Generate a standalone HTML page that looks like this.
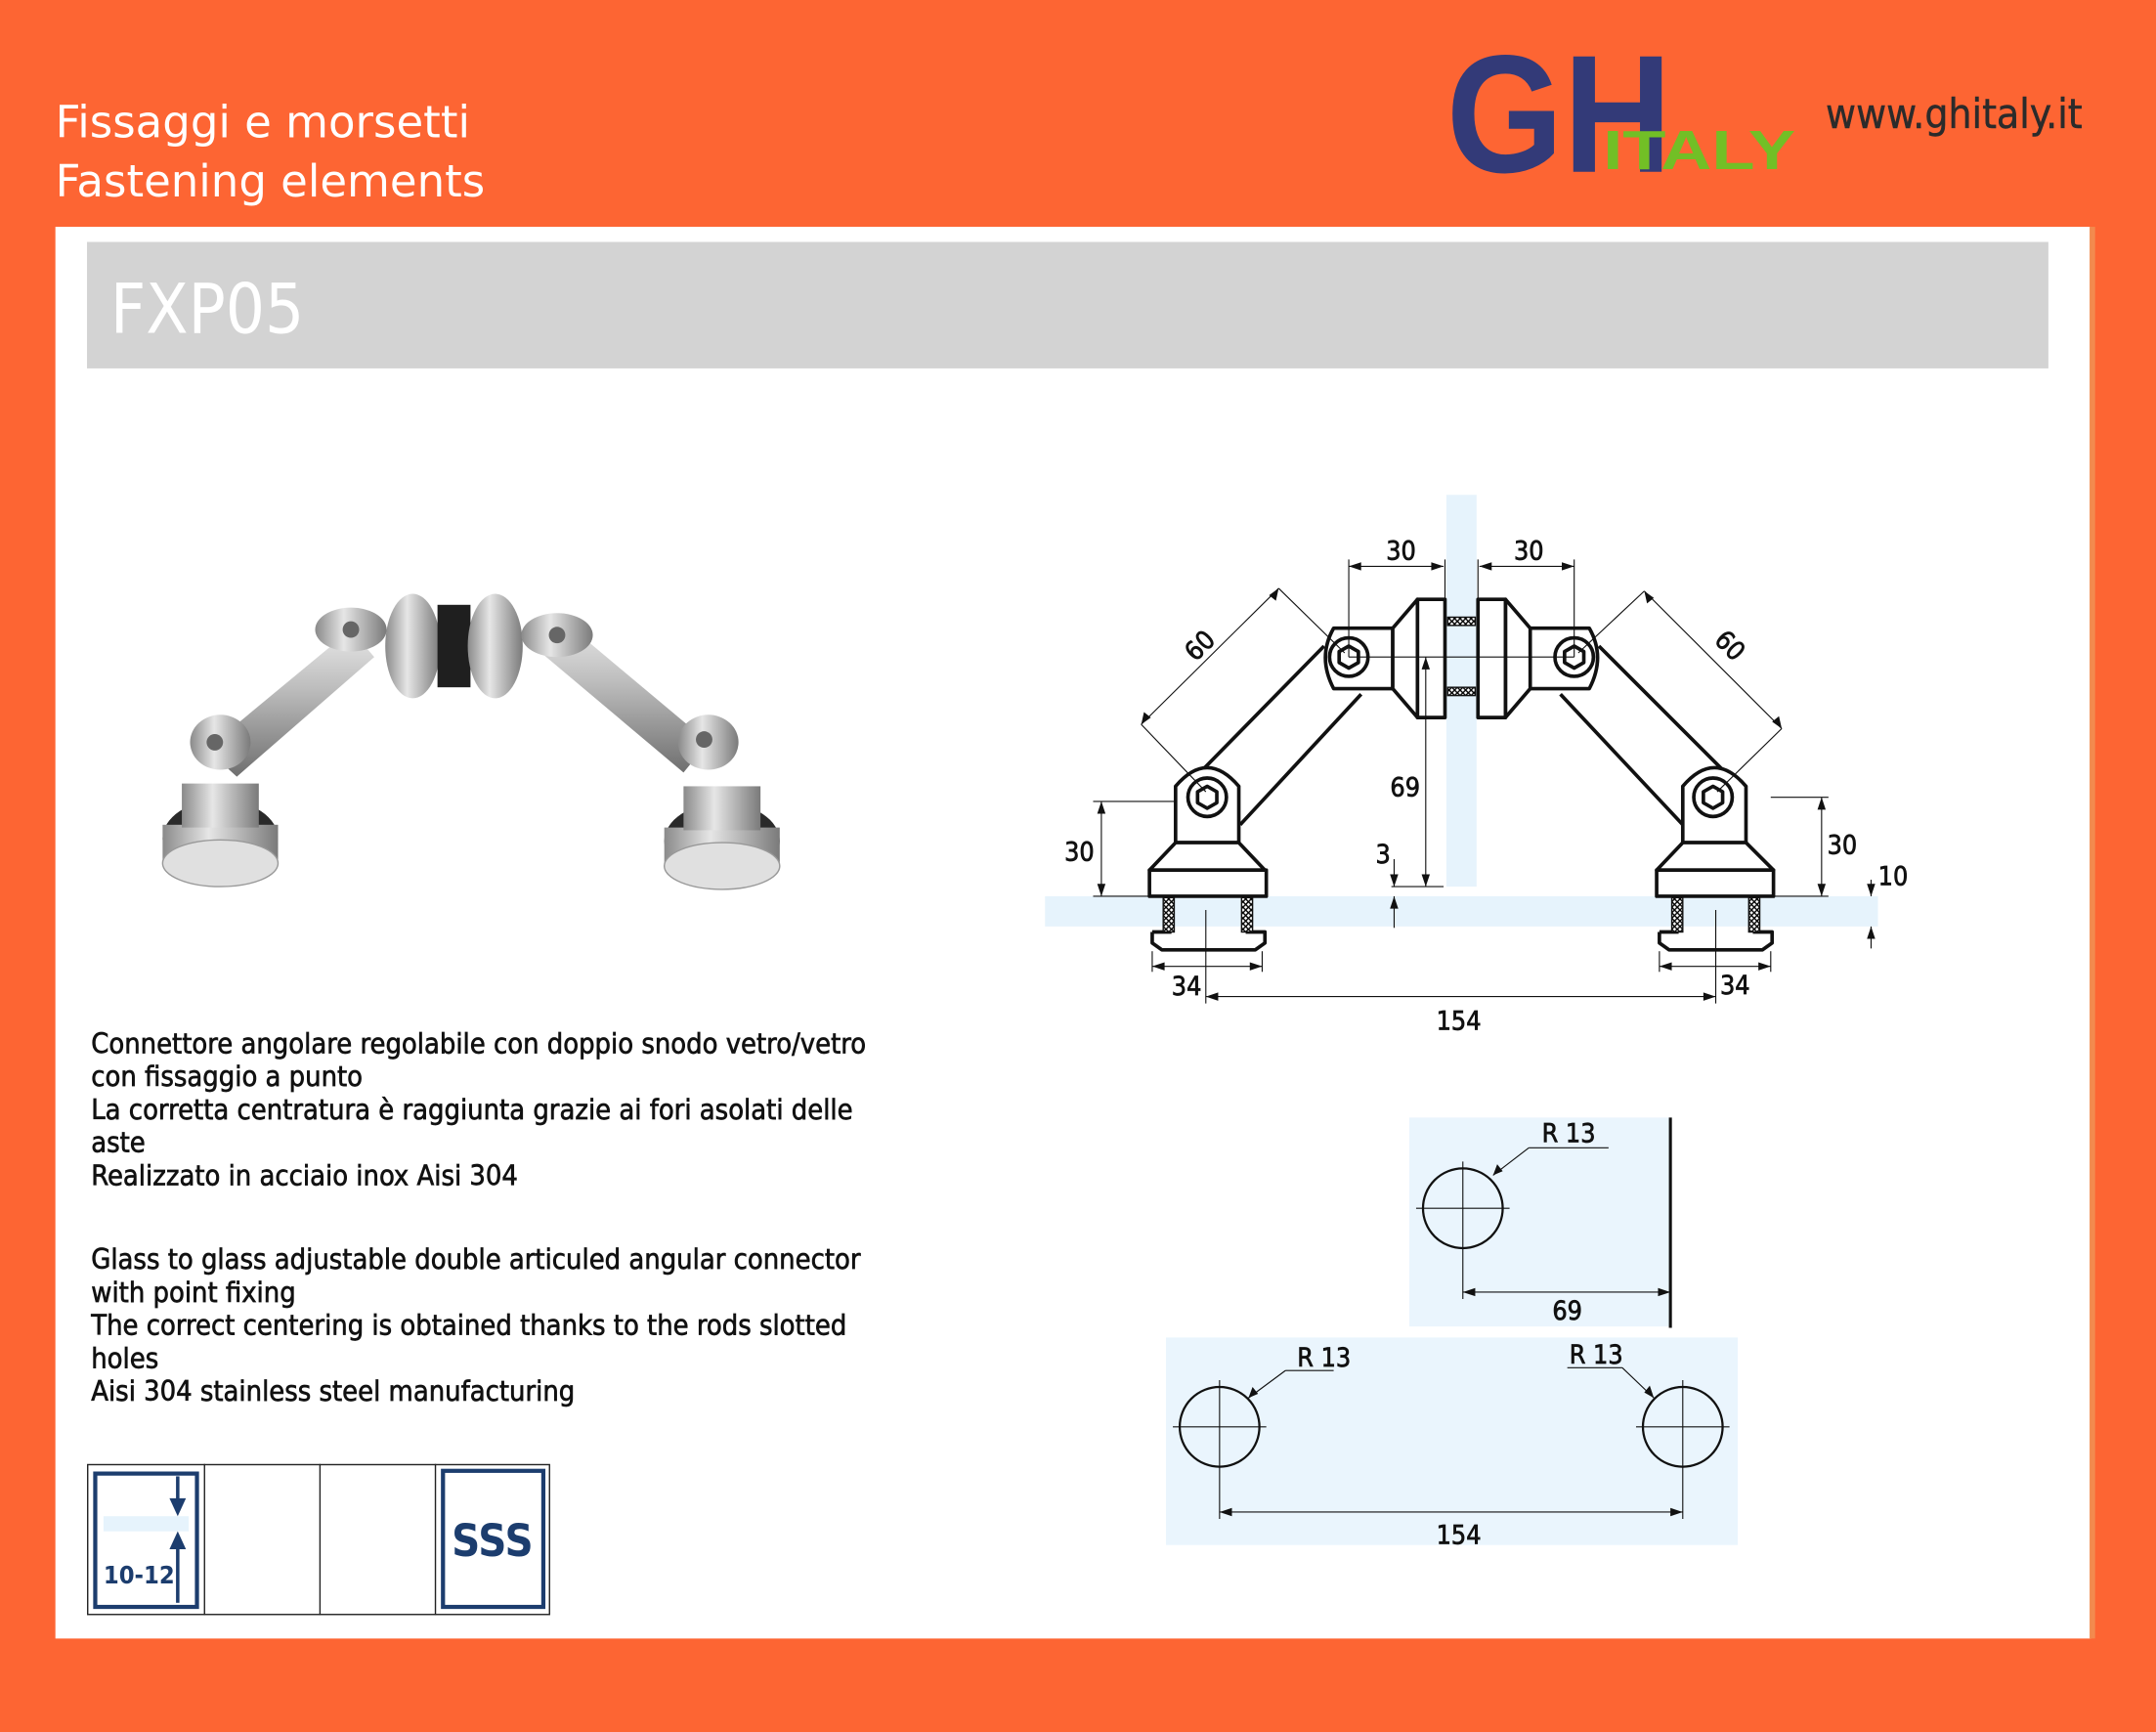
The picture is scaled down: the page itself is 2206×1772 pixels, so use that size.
<!DOCTYPE html>
<html><head><meta charset="utf-8"><style>
html,body{margin:0;padding:0;background:#fd6533;}
svg{display:block}
.t{font-family:"DejaVu Sans Condensed","DejaVu Sans",sans-serif;}
</style></head><body>
<svg width="2206" height="1772" viewBox="0 0 1568 1260" xmlns="http://www.w3.org/2000/svg">
<defs>
<linearGradient id="rod" x1="0" y1="0" x2="0" y2="1"><stop offset="0" stop-color="#e8e8e8"/><stop offset="0.4" stop-color="#bdbdbd"/><stop offset="1" stop-color="#6f6f6f"/></linearGradient>
<linearGradient id="cyl" x1="0" y1="0" x2="1" y2="0"><stop offset="0" stop-color="#8a8a8a"/><stop offset="0.4" stop-color="#e6e6e6"/><stop offset="1" stop-color="#7a7a7a"/></linearGradient>
<pattern id="hatch" width="4" height="4" patternUnits="userSpaceOnUse"><rect width="4" height="4" fill="#fff"/><path d="M0 0L4 4M4 0L0 4" stroke="#000" stroke-width="1"/></pattern>
</defs>
<rect width="1568" height="1260" fill="#fd6533"/>
<rect x="40" y="165" width="1481" height="1027" fill="#fff"/>
<rect x="1520" y="165" width="4" height="1027" fill="#f28a4e"/>
<rect x="63" y="176" width="1427" height="92" fill="#d3d3d3"/>
<text x="80" y="242" class="t" font-size="50" fill="#fff">FXP05</text>
<text x="40" y="100" font-size="32" fill="#fff" style="font-family:'DejaVu Sans',sans-serif">Fissaggi e morsetti</text>
<text x="40" y="143" font-size="32" fill="#fff" style="font-family:'DejaVu Sans',sans-serif">Fastening elements</text>
<!-- logo -->
<text x="1052" y="125" font-family="Liberation Sans,sans-serif" font-weight="bold" font-size="122" fill="#333a78" textLength="164" lengthAdjust="spacingAndGlyphs">GH</text>
<text x="1166" y="123" font-family="Liberation Sans,sans-serif" font-weight="bold" font-size="40" fill="#72bf26" textLength="140" lengthAdjust="spacingAndGlyphs">ITALY</text>
<text x="1328" y="93" class="t" font-size="30" fill="#2b2b2b" stroke="#2b2b2b" stroke-width="0.3">www.ghitaly.it</text>

<!-- photo -->
<g>
<path d="M150 545 L255 458 L272 478 L172 565Z" fill="url(#rod)"/>
<path d="M390 472 L410 452 L515 540 L497 562Z" fill="url(#rod)"/>
<ellipse cx="160" cy="610" rx="42" ry="28" fill="#2a2a2a"/>
<rect x="118" y="600" width="84" height="28" fill="url(#cyl)"/>
<ellipse cx="160" cy="628" rx="42" ry="17" fill="#e0e0e0" stroke="#999"/>
<rect x="132" y="570" width="56" height="32" fill="url(#cyl)"/>
<ellipse cx="160" cy="540" rx="22" ry="20" fill="url(#cyl)"/>
<ellipse cx="525" cy="612" rx="42" ry="28" fill="#2a2a2a"/>
<rect x="483" y="602" width="84" height="28" fill="url(#cyl)"/>
<ellipse cx="525" cy="630" rx="42" ry="17" fill="#e0e0e0" stroke="#999"/>
<rect x="497" y="572" width="56" height="32" fill="url(#cyl)"/>
<ellipse cx="515" cy="540" rx="22" ry="20" fill="url(#cyl)"/>
<ellipse cx="300" cy="470" rx="20" ry="38" fill="url(#cyl)"/>
<rect x="318" y="440" width="24" height="60" fill="#1f1f1f"/>
<ellipse cx="360" cy="470" rx="20" ry="38" fill="url(#cyl)"/>
<ellipse cx="255" cy="458" rx="26" ry="16" fill="url(#cyl)"/>
<ellipse cx="405" cy="462" rx="26" ry="16" fill="url(#cyl)"/>
<circle cx="255" cy="458" r="6" fill="#666"/><circle cx="405" cy="462" r="6" fill="#666"/>
<circle cx="156" cy="540" r="6" fill="#666"/><circle cx="512" cy="538" r="6" fill="#666"/>
</g>

<!-- description -->
<g class="t" font-size="20.5" fill="#111" stroke="#111" stroke-width="0.45">
<text x="66" y="766">Connettore angolare regolabile con doppio snodo vetro/vetro</text>
<text x="66" y="790">con fissaggio a punto</text>
<text x="66" y="814">La corretta centratura è raggiunta grazie ai fori asolati delle</text>
<text x="66" y="838">aste</text>
<text x="66" y="862">Realizzato in acciaio inox Aisi 304</text>
<text x="66" y="923">Glass to glass adjustable double articuled angular connector</text>
<text x="66" y="947">with point fixing</text>
<text x="66" y="971">The correct centering is obtained thanks to the rods slotted</text>
<text x="66" y="995">holes</text>
<text x="66" y="1019">Aisi 304 stainless steel manufacturing</text>
</g>

<!-- icons -->
<g stroke="#222" stroke-width="1" fill="none">
<rect x="63.5" y="1065.5" width="336" height="109"/>
<line x1="148.5" y1="1065" x2="148.5" y2="1175"/>
<line x1="232.5" y1="1065" x2="232.5" y2="1175"/>
<line x1="316.5" y1="1065" x2="316.5" y2="1175"/>
</g>
<rect x="69" y="1072" width="74" height="97" fill="none" stroke="#1c3d6e" stroke-width="3"/>
<rect x="75" y="1103" width="62" height="11" fill="#e6f3fc"/>
<g stroke="#1c3d6e" stroke-width="2.5" fill="#1c3d6e">
<line x1="129" y1="1074" x2="129" y2="1095"/><path d="M123 1090 L135 1090 L129 1103Z" stroke="none"/>
<line x1="129" y1="1124" x2="129" y2="1166"/><path d="M123 1127 L135 1127 L129 1114Z" stroke="none"/>
</g>
<text x="75" y="1152" class="t" font-weight="bold" font-size="18" fill="#1c3d6e">10-12</text>
<rect x="322" y="1070" width="73" height="99" fill="none" stroke="#1c3d6e" stroke-width="3"/>
<text x="358" y="1132" text-anchor="middle" class="t" font-weight="bold" font-size="32" fill="#1c3d6e">SSS</text>

<!-- technical drawing -->
<rect x="1052" y="360" width="22" height="285" fill="#e6f3fc"/>
<rect x="760" y="652" width="606" height="22" fill="#e6f3fc"/>
<g stroke="#111" stroke-width="2.6" fill="none" stroke-linejoin="round">
<line x1="963" y1="470" x2="860" y2="575"/><line x1="990" y1="505" x2="902" y2="600"/>
<line x1="1163" y1="470" x2="1268" y2="575"/><line x1="1135" y1="505" x2="1224" y2="600"/>
<path d="M1013 457 L970 457 Q958 478 970 501 L1013 501Z" fill="#fff"/>
<path d="M1031 436 L1013 457 L1013 501 L1031 522Z" fill="#fff"/>
<rect x="1031" y="436" width="20" height="86" fill="#fff"/>
<path d="M1113 457 L1156 457 Q1168 478 1156 501 L1113 501Z" fill="#fff"/>
<path d="M1095 436 L1113 457 L1113 501 L1095 522Z" fill="#fff"/>
<rect x="1075" y="436" width="20" height="86" fill="#fff"/>
<circle cx="981" cy="478" r="14"/><path d="M981 470 l7 4 v8 l-7 4 l-7 -4 v-8z"/>
<circle cx="1145" cy="478" r="14"/><path d="M1145 470 l7 4 v8 l-7 4 l-7 -4 v-8z"/>
<path d="M855 613 L855 572 Q878 545 901 572 L901 613Z" fill="#fff"/>
<path d="M855 613 L901 613 L920 633 L836 633Z" fill="#fff"/>
<rect x="836" y="633" width="85" height="19" fill="#fff"/>
<path d="M1224 613 L1224 572 Q1247 545 1270 572 L1270 613Z" fill="#fff"/>
<path d="M1224 613 L1270 613 L1290 633 L1205 633Z" fill="#fff"/>
<rect x="1205" y="633" width="85" height="19" fill="#fff"/>
<circle cx="878" cy="580" r="14"/><path d="M878 572 l7 4 v8 l-7 4 l-7 -4 v-8z"/>
<circle cx="1246" cy="580" r="14"/><path d="M1246 572 l7 4 v8 l-7 4 l-7 -4 v-8z"/>
<path d="M838 678 L838 686 L845 691 L913 691 L920 686 L920 678 L906 678" />
<path d="M852 678 L838 678"/>
<path d="M1207 678 L1207 686 L1214 691 L1282 691 L1289 686 L1289 678 L1275 678"/>
<path d="M1221 678 L1207 678"/>
</g>
<g stroke="#111" stroke-width="1" fill="url(#hatch)">
<rect x="846" y="653" width="8" height="25"/><rect x="903" y="653" width="8" height="25"/>
<rect x="1216" y="653" width="8" height="25"/><rect x="1272" y="653" width="8" height="25"/>
<rect x="1053" y="449" width="20" height="6"/><rect x="1053" y="500" width="20" height="6"/>
</g>
<g stroke="#111" stroke-width="0.8" fill="none">
<line x1="981" y1="478" x2="1145" y2="478"/>
<line x1="981" y1="407" x2="981" y2="478"/><line x1="1145" y1="407" x2="1145" y2="478"/>
<line x1="981" y1="412" x2="1050" y2="412"/><line x1="1076" y1="412" x2="1145" y2="412"/>
<line x1="1051" y1="407" x2="1051" y2="436"/><line x1="1075" y1="407" x2="1075" y2="436"/>
<line x1="830" y1="527" x2="930" y2="428"/><line x1="930" y1="428" x2="978" y2="475"/><line x1="830" y1="527" x2="877" y2="576"/>
<line x1="1296" y1="530" x2="1196" y2="430"/><line x1="1196" y1="430" x2="1148" y2="475"/><line x1="1296" y1="530" x2="1249" y2="576"/>
<line x1="1288" y1="580" x2="1330" y2="580"/><line x1="1325" y1="580" x2="1325" y2="652"/><line x1="1290" y1="652" x2="1330" y2="652"/>
<line x1="795" y1="583" x2="855" y2="583"/><line x1="801" y1="583" x2="801" y2="652"/><line x1="795" y1="652" x2="836" y2="652"/>
<line x1="1037" y1="478" x2="1037" y2="645"/>
<line x1="1012" y1="645" x2="1050" y2="645"/><line x1="1014" y1="625" x2="1014" y2="645"/><line x1="1014" y1="652" x2="1014" y2="675"/>
<line x1="1361" y1="640" x2="1361" y2="652"/><line x1="1361" y1="674" x2="1361" y2="690"/>
<line x1="838" y1="692" x2="838" y2="707"/><line x1="918" y1="692" x2="918" y2="707"/><line x1="838" y1="703" x2="918" y2="703"/>
<line x1="1207" y1="692" x2="1207" y2="707"/><line x1="1288" y1="692" x2="1288" y2="707"/><line x1="1207" y1="703" x2="1288" y2="703"/>
<line x1="877" y1="662" x2="877" y2="730"/><line x1="1248" y1="662" x2="1248" y2="730"/><line x1="877" y1="725" x2="1248" y2="725"/>
</g>
<g fill="#111">
<path d="M981 412 l9 -3 v6z"/><path d="M1050 412 l-9 -3 v6z"/><path d="M1076 412 l9 -3 v6z"/><path d="M1145 412 l-9 -3 v6z"/>
<path d="M930 428 l-2 9 l-5 -4z"/><path d="M830 527 l2 -9 l5 4z"/>
<path d="M1196 430 l2 9 l5 -4z"/><path d="M1296 530 l-2 -9 l-5 4z"/>
<path d="M1325 580 l-3 9 h6z"/><path d="M1325 652 l-3 -9 h6z"/>
<path d="M801 583 l-3 9 h6z"/><path d="M801 652 l-3 -9 h6z"/>
<path d="M1037 478 l-3 9 h6z"/><path d="M1037 645 l-3 -9 h6z"/>
<path d="M1014 645 l-3 -9 h6z"/><path d="M1014 652 l-3 9 h6z"/>
<path d="M1361 652 l-3 -9 h6z"/><path d="M1361 674 l-3 9 h6z"/>
<path d="M838 703 l9 -3 v6z"/><path d="M918 703 l-9 -3 v6z"/>
<path d="M1207 703 l9 -3 v6z"/><path d="M1288 703 l-9 -3 v6z"/>
<path d="M877 725 l9 -3 v6z"/><path d="M1248 725 l-9 -3 v6z"/>
</g>
<g class="t" font-size="19" fill="#111" stroke="#111" stroke-width="0.5" text-anchor="middle">
<text x="1019" y="407">30</text><text x="1112" y="407">30</text>
<text x="873" y="476" transform="rotate(-45 873 470)">60</text>
<text x="1258" y="476" transform="rotate(45 1258 470)">60</text>
<text x="1022" y="579">69</text>
<text x="1006" y="628">3</text>
<text x="785" y="626">30</text>
<text x="1340" y="621">30</text>
<text x="1377" y="644">10</text>
<text x="863" y="724">34</text>
<text x="1262" y="723">34</text>
<text x="1061" y="749">154</text>
</g>

<rect x="1025" y="813" width="190" height="152" fill="#eaf5fd"/>
<rect x="848" y="973" width="416" height="151" fill="#eaf5fd"/>
<line x1="1215" y1="813" x2="1215" y2="966" stroke="#111" stroke-width="2.2"/>
<g stroke="#111" stroke-width="1.6" fill="none">
<circle cx="1064" cy="879" r="29"/><circle cx="887" cy="1038" r="29"/><circle cx="1224" cy="1038" r="29"/>
</g>
<g stroke="#111" stroke-width="0.8" fill="none">
<line x1="1030" y1="879" x2="1098" y2="879"/><line x1="1064" y1="845" x2="1064" y2="945"/>
<line x1="853" y1="1038" x2="921" y2="1038"/><line x1="887" y1="1004" x2="887" y2="1105"/>
<line x1="1190" y1="1038" x2="1258" y2="1038"/><line x1="1224" y1="1004" x2="1224" y2="1105"/>
<line x1="1064" y1="940" x2="1215" y2="940"/>
<line x1="887" y1="1100" x2="1224" y2="1100"/>
<line x1="1086" y1="855" x2="1112" y2="835"/><line x1="1112" y1="835" x2="1170" y2="835"/>
<line x1="908" y1="1017" x2="935" y2="997"/><line x1="935" y1="997" x2="970" y2="997"/>
<line x1="1203" y1="1017" x2="1180" y2="995"/><line x1="1180" y1="995" x2="1140" y2="995"/>
</g>
<g fill="#111">
<path d="M1064 940 l9 -3 v6z"/><path d="M1215 940 l-9 -3 v6z"/>
<path d="M887 1100 l9 -3 v6z"/><path d="M1224 1100 l-9 -3 v6z"/>
<path d="M1086 855 l3 -8 l4 5z"/><path d="M908 1017 l3 -8 l4 5z"/><path d="M1203 1017 l-7 -4 l4 -5z"/>
</g>
<g class="t" font-size="19" fill="#111" stroke="#111" stroke-width="0.5" text-anchor="middle">
<text x="1141" y="831">R 13</text><text x="1140" y="960">69</text>
<text x="963" y="994">R 13</text><text x="1161" y="992">R 13</text>
<text x="1061" y="1123">154</text>
</g>
</svg>
</body></html>
